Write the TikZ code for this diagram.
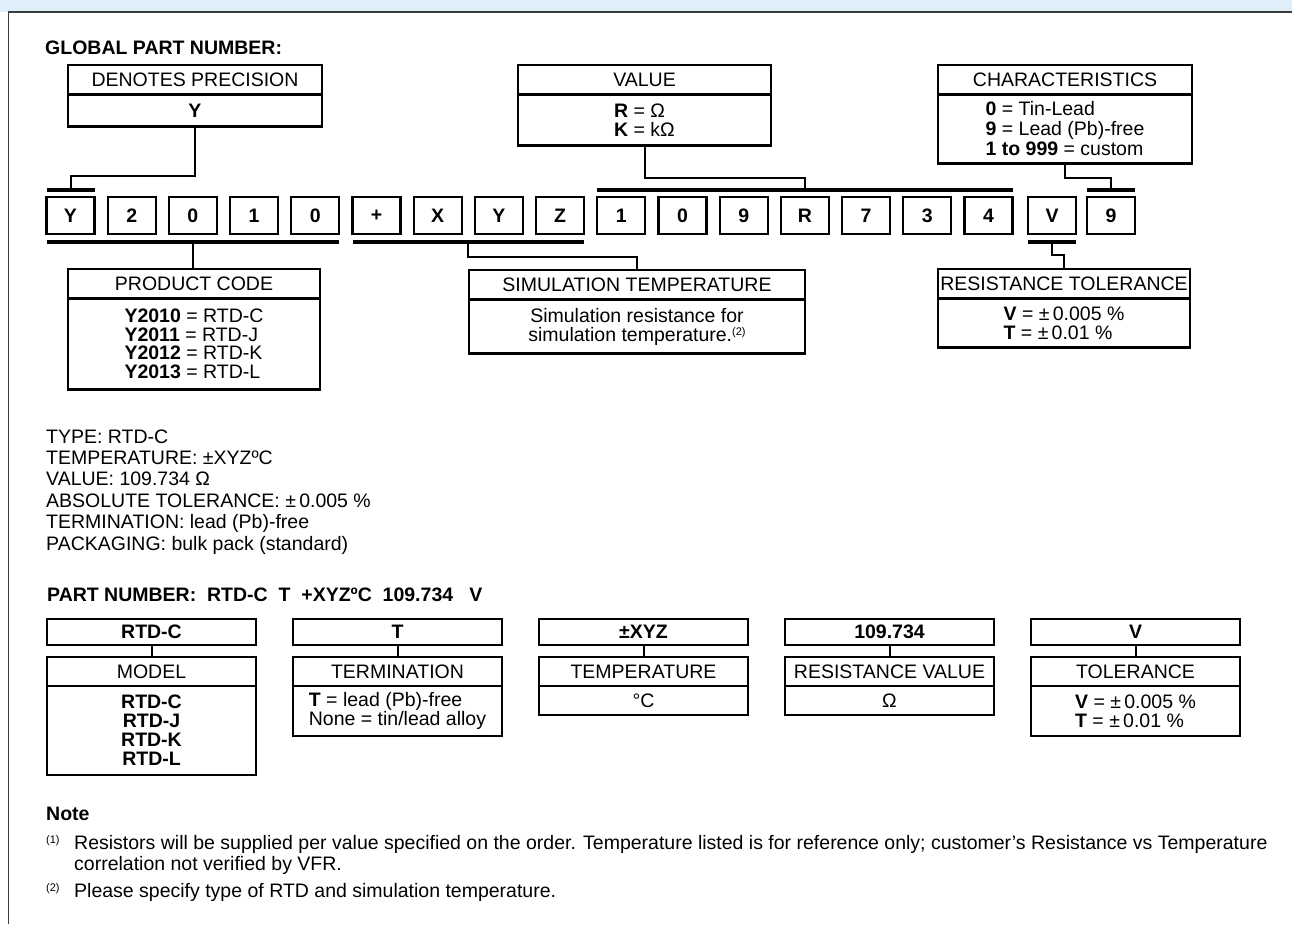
\documentclass[tikz,border=0pt]{standalone}
\usepackage{fontspec}
\setmainfont{Liberation Sans}
\usetikzlibrary{positioning,calc}
\definecolor{bandblue}{RGB}{222,239,250}
\definecolor{rulegray}{RGB}{60,60,60}
\newcommand{\notemark}[1]{\raisebox{6pt}{\fontsize{11}{11}\selectfont(#1)}}

\begin{document}
\begin{tikzpicture}[x=1pt,y=-1pt,
	font=\fontsize{19.5}{19}\selectfont,
	boldtxt/.style={font=\fontsize{19.5}{19}\selectfont\bfseries},
	digit/.style={draw,line width=2.2pt,minimum width=48pt,minimum height=37pt,inner sep=0pt,outer sep=0pt,boldtxt,anchor=north west},
	headbox/.style={draw,line width=2.2pt,minimum height=29.5pt,inner sep=0pt,outer sep=0pt,anchor=north},
	bodybox/.style={draw,line width=2.2pt,inner sep=0pt,outer sep=0pt,anchor=north,align=left},
	thickbar/.style={line width=4pt},
	link/.style={line width=2pt},
	txt/.style={anchor=base west,inner sep=0pt}]
		\useasboundingbox (0,0) rectangle (1292,924);
		% 顶部色带与边框
		\fill[bandblue] (0,0) rectangle (1292,12);
		\draw[rulegray,line width=1.5pt] (8,12) -- (1292,12);
		\draw[rulegray,line width=1.5pt] (8.5,12) -- (8.5,924);
		
		% 标题
		\node[txt,boldtxt] (gpn) at (45,54) {GLOBAL PART NUMBER:};
		
		% 上方说明框
		\node[headbox,minimum width=254pt,anchor=north west] (prec) at (68,65) {DENOTES PRECISION};
		\node[bodybox,minimum width=254pt,minimum height=32pt] (precv) at (prec.south) {\textbf{Y}};
		\node[headbox,minimum width=253pt,anchor=north west] (val) at (518,65) {VALUE};
		\node[bodybox,minimum width=253pt,minimum height=51pt] (valv) at (val.south) {\textbf{R} = Ω\\\textbf{K} = kΩ};
		\node[headbox,minimum width=254pt,anchor=north west] (chr) at (938,65) {CHARACTERISTICS};
		\node[bodybox,minimum width=254pt,minimum height=69pt,font=\fontsize{19.5}{20}\selectfont] (chrv) at (chr.south) {\textbf{0} = Tin-Lead\\\textbf{9} = Lead (Pb)-free\\\textbf{1 to 999} = custom};
		
		% 料号字符框
		\node[digit] (d0) at (46.5,197) {Y};
		\node[digit] (d1) at (107.7,197) {2};
		\node[digit] (d2) at (168.9,197) {0};
		\node[digit] (d3) at (230.1,197) {1};
		\node[digit] (d4) at (291.3,197) {0};
		\node[digit] (d5) at (352.5,197) {+};
		\node[digit] (d6) at (413.7,197) {X};
		\node[digit] (d7) at (474.9,197) {Y};
		\node[digit] (d8) at (536.1,197) {Z};
		\node[digit] (d9) at (597.3,197) {1};
		\node[digit] (d10) at (658.5,197) {0};
		\node[digit] (d11) at (719.7,197) {9};
		\node[digit] (d12) at (780.9,197) {R};
		\node[digit] (d13) at (842.1,197) {7};
		\node[digit] (d14) at (903.3,197) {3};
		\node[digit] (d15) at (964.5,197) {4};
		\node[digit] (d16) at (1028,197) {V};
		\node[digit] (d17) at (1087,197) {9};
		
		% 分组粗线
		\draw[thickbar] ([yshift=7pt]d0.north west) -- ([yshift=7pt]d0.north east);
		\draw[thickbar] ([yshift=7pt]d9.north west) -- ([yshift=7pt]d15.north east);
		\draw[thickbar] ([yshift=7pt]d17.north west) -- ([yshift=7pt]d17.north east);
		\draw[thickbar] ([yshift=-8pt]d0.south west) -- ([yshift=-8pt]d4.south east);
		\draw[thickbar] ([yshift=-8pt]d5.south west) -- ([yshift=-8pt]d8.south east);
		\draw[thickbar] ([yshift=-8pt]d16.south west) -- ([yshift=-8pt]d16.south east);
		\coordinate (ybar) at ([yshift=7pt]d0.north);
		\coordinate (valbar) at ($([yshift=7pt]d9.north west)!0.5!([yshift=7pt]d15.north east)$);
		\coordinate (chbar) at ([yshift=7pt]d17.north);
		\coordinate (pcbar) at ($([yshift=-8pt]d0.south west)!0.5!([yshift=-8pt]d4.south east)$);
		\coordinate (simbar) at ($([yshift=-8pt]d5.south west)!0.5!([yshift=-8pt]d8.south east)$);
		\coordinate (vbar) at ([yshift=-8pt]d16.south);
		
		% 下方说明框
		\node[headbox,minimum width=252pt,anchor=north west] (pc) at (68,269) {PRODUCT CODE};
		\node[bodybox,minimum width=252pt,minimum height=91pt,font=\fontsize{19.5}{18.5}\selectfont] (pcv) at (pc.south) {\textbf{Y2010} = RTD-C\\\textbf{Y2011} = RTD-J\\\textbf{Y2012} = RTD-K\\\textbf{Y2013} = RTD-L};
		\node[headbox,minimum width=336pt,anchor=north west] (sim) at (469,270) {SIMULATION TEMPERATURE};
		\node[bodybox,minimum width=336pt,minimum height=54pt,align=center] (simv) at (sim.south) {Simulation resistance for\\simulation temperature.\notemark{2}};
		\node[headbox,minimum width=252pt,anchor=north west] (tol) at (938,269) {RESISTANCE TOLERANCE};
		\node[bodybox,minimum width=252pt,minimum height=49pt] (tolv) at (tol.south) {\textbf{V} = ±\,0.005 \%\\\textbf{T} = ±\,0.01 \%};
		
		% 连接线
		\draw[link] (precv.south) -- ++(0,49) -| (ybar);
		\draw[link] (valv.south) -- ++(0,32) -| (valbar);
		\draw[link] (chrv.south) -- ++(0,14) -| (chbar);
		\draw[link] (pcbar) -- (pcbar |- pc.north);
		\draw[link] (simbar) -- ++(0,15) -| (sim.north);
		\draw[link] (vbar) -- ++(0,13) -| (tol.north);
		
		% 示例说明
		\node[txt] (ex1) at (46,443) {TYPE: RTD-C};
		\node[txt] (ex2) at (46,464.4) {TEMPERATURE: ±XYZºC};
		\node[txt] (ex3) at (46,485.8) {VALUE: 109.734 Ω};
		\node[txt] (ex4) at (46,507.2) {ABSOLUTE TOLERANCE: ±\,0.005 \%};
		\node[txt] (ex5) at (46,528.6) {TERMINATION: lead (Pb)-free};
		\node[txt] (ex6) at (46,550) {PACKAGING: bulk pack (standard)};
		\node[txt,boldtxt] (pn) at (47,601) {PART NUMBER:\ \ RTD-C\ \ T\ \ +XYZºC\ \ 109.734\ \ \ V};
		
		% 料号分解
		\node[headbox,boldtxt,minimum width=209pt,minimum height=26pt,anchor=north west] (mcode) at (47,619) {RTD-C};
		\node[headbox,minimum width=209pt,minimum height=29pt] (mhead) at ([yshift=-12pt]mcode.south) {MODEL};
		\node[bodybox,boldtxt,minimum width=209pt,minimum height=89pt,align=center] (mbody) at (mhead.south) {RTD-C\\RTD-J\\RTD-K\\RTD-L};
		\node[headbox,boldtxt,minimum width=209pt,minimum height=26pt,anchor=north west] (tcode) at (293,619) {T};
		\node[headbox,minimum width=209pt,minimum height=29pt] (thead) at ([yshift=-12pt]tcode.south) {TERMINATION};
		\node[bodybox,minimum width=209pt,minimum height=50pt] (tbody) at (thead.south) {\textbf{T} = lead (Pb)-free\\None = tin/lead alloy};
		\node[headbox,boldtxt,minimum width=209pt,minimum height=26pt,anchor=north west] (ecode) at (539,619) {±XYZ};
		\node[headbox,minimum width=209pt,minimum height=29pt] (ehead) at ([yshift=-12pt]ecode.south) {TEMPERATURE};
		\node[bodybox,minimum width=209pt,minimum height=29pt] (ebody) at (ehead.south) {°C};
		\node[headbox,boldtxt,minimum width=209pt,minimum height=26pt,anchor=north west] (rcode) at (785,619) {109.734};
		\node[headbox,minimum width=209pt,minimum height=29pt] (rhead) at ([yshift=-12pt]rcode.south) {RESISTANCE VALUE};
		\node[bodybox,minimum width=209pt,minimum height=29pt] (rbody) at (rhead.south) {Ω};
		\node[headbox,boldtxt,minimum width=209pt,minimum height=26pt,anchor=north west] (vcode) at (1031,619) {V};
		\node[headbox,minimum width=209pt,minimum height=29pt] (vhead) at ([yshift=-12pt]vcode.south) {TOLERANCE};
		\node[bodybox,minimum width=209pt,minimum height=50pt] (vbody) at (vhead.south) {\textbf{V} = ±\,0.005 \%\\\textbf{T} = ±\,0.01 \%};
		\draw[link] (mcode) -- (mhead);
		\draw[link] (tcode) -- (thead);
		\draw[link] (ecode) -- (ehead);
		\draw[link] (rcode) -- (rhead);
		\draw[link] (vcode) -- (vhead);
		
		% 注释
		\node[txt,boldtxt] (note) at (46,820) {Note};
		\node[txt] (n1m) at (46,849) {\notemark{1}};
		\node[txt] (n1a) at (74,849) {Resistors will be supplied per value specified on the order. Temperature listed is for reference only; customer's Resistance vs Temperature};
		\node[txt] (n1b) at (74,870) {correlation not verified by VFR.};
		\node[txt] (n2m) at (46,897) {\notemark{2}};
		\node[txt] (n2a) at (74,897) {Please specify type of RTD and simulation temperature.};
	\end{tikzpicture}
\end{document}
